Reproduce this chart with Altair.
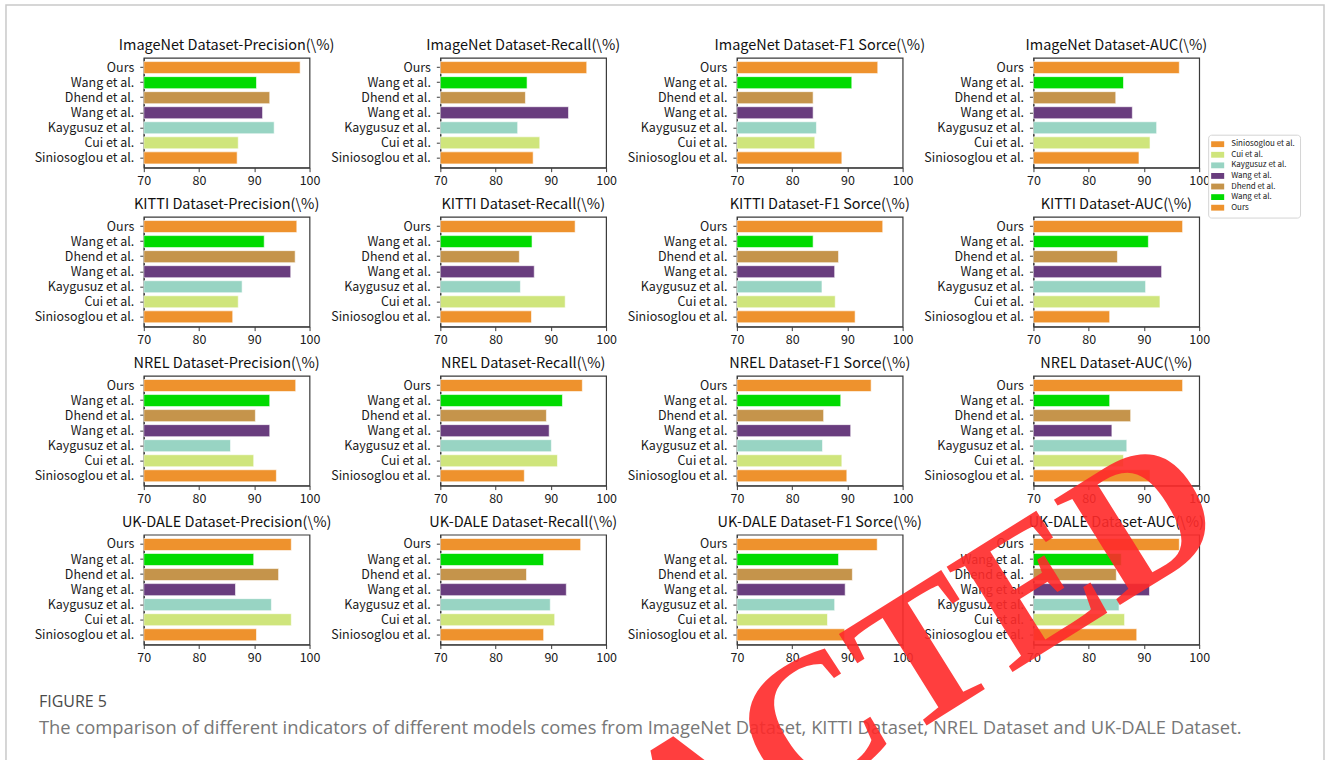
import altair as alt
import pandas as pd

# Methods in plotting order (bottom to top), also the legend order.
method_names = ["Siniosoglou et al.", "Cui et al.", "Kaygusuz et al.", "Wang et al.",
                "Dhend et al.", "Wang et al.", "Ours"]
# Unique axis keys; trailing non-collapsing spaces keep the two "Wang et al." apart
method_keys = ["Siniosoglou et al.\u00a0", "Cui et al.\u00a0", "Kaygusuz et al.\u00a0",
               "Wang et al.\u00a0\u00a0", "Dhend et al.\u00a0", "Wang et al.\u2002", "Ours"]
method_colors = ["#EE922D", "#CFE57C", "#98D4C3", "#693D7E", "#C5944B", "#00DB00", "#EE922D"]

datasets = ["ImageNet", "KITTI", "NREL", "UK-DALE"]
metrics = ["Precision", "Recall", "F1 Sorce", "AUC"]
x_ticks = [70, 80, 90, 100]

# Scores (%), one list per dataset/metric, in method order above
imagenet_precision = [86.9, 87.1, 93.6, 91.5, 92.8, 90.4, 98.3]
imagenet_recall = [86.8, 88.0, 84.0, 93.2, 85.4, 85.7, 96.5]
imagenet_f1 = [89.0, 84.1, 84.4, 83.8, 83.8, 90.8, 95.5]
imagenet_auc = [89.1, 91.1, 92.3, 87.9, 84.9, 86.3, 96.4]

kitti_precision = [86.1, 87.1, 87.8, 96.6, 97.4, 91.8, 97.7]
kitti_recall = [86.5, 92.6, 84.5, 87.0, 84.3, 86.6, 94.4]
kitti_f1 = [91.4, 87.8, 85.4, 87.7, 88.4, 83.8, 96.4]
kitti_auc = [83.8, 92.9, 90.3, 93.2, 85.2, 90.8, 97.0]

nrel_precision = [94.0, 89.9, 85.7, 92.8, 90.2, 92.8, 97.5]
nrel_recall = [85.2, 91.2, 90.1, 89.7, 89.2, 92.1, 95.7]
nrel_f1 = [89.9, 89.0, 85.5, 90.6, 85.7, 88.8, 94.3]
nrel_auc = [91.1, 86.3, 86.9, 84.2, 87.6, 83.8, 97.0]

ukdale_precision = [90.4, 96.7, 93.1, 86.6, 94.4, 89.9, 96.7]
ukdale_recall = [88.7, 90.7, 89.9, 92.8, 85.6, 88.7, 95.4]
ukdale_f1 = [89.5, 86.4, 87.7, 89.6, 90.9, 88.4, 95.4]
ukdale_auc = [88.7, 86.5, 85.5, 91.0, 85.0, 85.9, 96.4]

scores = [
    [imagenet_precision, imagenet_recall, imagenet_f1, imagenet_auc],
    [kitti_precision, kitti_recall, kitti_f1, kitti_auc],
    [nrel_precision, nrel_recall, nrel_f1, nrel_auc],
    [ukdale_precision, ukdale_recall, ukdale_f1, ukdale_auc],
]

caption_head = "FIGURE 5"
caption_body = ("The comparison of different indicators of different models comes from "
                "ImageNet Dataset, KITTI Dataset, NREL Dataset and UK-DALE Dataset.")
stamp_text = "RETRACTED"

FONT = "Noto Sans CJK SC"
PW, PH = 166, 110
ROW_GAP = 49.2

legend = alt.Legend(
    orient="none", legendX=1066, legendY=77, title=None,
    symbolType="M-1.45,-0.65H1.45V0.65H-1.45Z", symbolSize=81, symbolStrokeWidth=0,
    labelFontSize=8, labelFont=FONT, labelColor="#222", labelOffset=9,
    rowPadding=1.6, padding=5, fillColor="white", strokeColor="#d4d4d4", cornerRadius=3,
)


def one_row():
    return pd.DataFrame({"k": [0]})


def panel(dataset, metric, vals):
    df = pd.DataFrame({"method": method_keys, "value": vals})
    bars = alt.Chart(df).mark_bar(stroke="white", strokeWidth=0.6).encode(
        x=alt.X("value:Q", scale=alt.Scale(domain=[70, 100], nice=False, zero=False),
                axis=alt.Axis(values=x_ticks, title=None, grid=False, labelPadding=3,
                              labelFlush=False)),
        x2=alt.X2(datum=70),
        y=alt.Y("method:N", scale=alt.Scale(domain=method_keys[::-1], paddingInner=0.2,
                                            paddingOuter=0.25),
                axis=alt.Axis(title=None, labelPadding=6)),
        color=alt.Color("method:N", scale=alt.Scale(domain=method_keys, range=method_colors),
                        legend=legend),
    )
    return bars.properties(width=PW, height=PH, title=f"{dataset} Dataset-{metric}(\\%)")


# Decorations live in a tiny extra cell below the grid (first column, fifth row);
# offsets are measured from that cell's origin.
grid_span = 4 * (PH + ROW_GAP)
frame = alt.Chart(one_row()).mark_rect(
    fill="white", fillOpacity=0, stroke="#c9c9c9", strokeWidth=1.5
).encode(x=alt.value(-138), x2=alt.value(1182), y=alt.value(-grid_span - 53),
         y2=alt.value(90))

cap_head = alt.Chart(one_row()).mark_text(
    text=caption_head, align="left", baseline="alphabetic", font="Open Sans",
    fontSize=16, color="#4a4a4a"
).encode(x=alt.value(-105), y=alt.value(13.3))
cap_body = alt.Chart(one_row()).mark_text(
    text=caption_body, align="left", baseline="alphabetic", font="Open Sans",
    fontSize=18.4, color="#777777"
).encode(x=alt.value(-105), y=alt.value(40.3))

stamp = alt.Chart(one_row()).mark_text(
    text=stamp_text, align="center", baseline="middle", font="Liberation Serif",
    fontWeight="bold", fontSize=190, color="#ff2a2a", opacity=0.9, angle=328
).encode(x=alt.value(555), y=alt.value(108))

decor = alt.layer(frame, cap_head, cap_body, stamp).properties(
    width=1, height=1, view=alt.ViewBackground(stroke="transparent", fill="transparent")
)

panels = [panel(ds, m, scores[i][j])
          for i, ds in enumerate(datasets) for j, m in enumerate(metrics)]

chart = alt.concat(
    *panels, decor, columns=4, spacing={"row": ROW_GAP, "column": 131}, bounds="flush"
).properties(
    padding={"left": 4, "top": 2, "right": 2, "bottom": 2}, background="white"
).configure_view(
    stroke="#3a3a3a", strokeWidth=1.2
).configure_axis(
    domainColor="#3a3a3a", tickColor="#3a3a3a", tickSize=4, labelFont=FONT,
    labelFontSize=12.5, labelColor="#1a1a1a"
).configure_title(
    font=FONT, fontSize=14.5, fontWeight="normal", color="#111111", offset=4
)

chart.save("out.html", embed_options={"renderer": "svg", "actions": False})
